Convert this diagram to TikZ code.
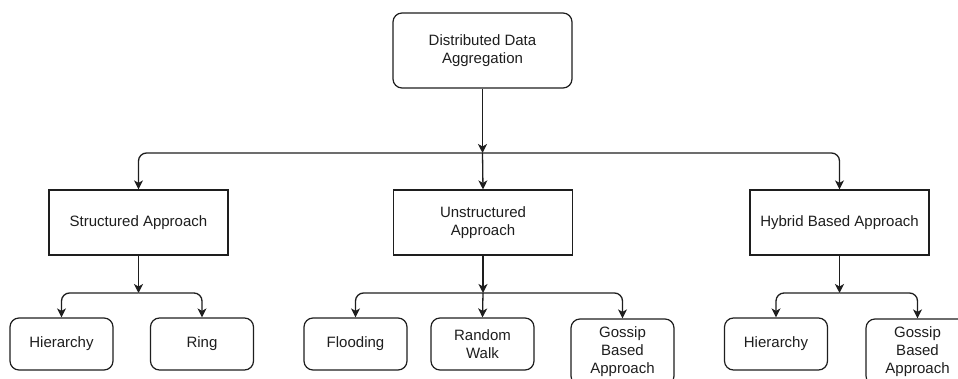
\documentclass[tikz,border=0pt]{standalone}
\usepackage{fontspec}
\setmainfont{Liberation Sans}
\usetikzlibrary{arrows.meta}
\definecolor{ink}{HTML}{1E1E1E}
\tikzset{
  box/.style={draw=ink, line width=1.2pt, fill=white, align=center, inner sep=0pt,
    font=\fontsize{15}{18}\selectfont, text=ink},
  roundbox/.style={box, rounded corners=9pt},
  arr/.style={draw=ink, line width=1.3pt, -{Stealth[length=9pt,width=9pt,inset=2.5pt]}, rounded corners=8pt},
}
\begin{document}
\begin{tikzpicture}[x=1pt, y=-1pt]
\useasboundingbox (0,0) rectangle (958,379);
\clip (0,0) rectangle (958,379);

% root
\node[roundbox, minimum width=179pt, minimum height=75pt] (root) at (482.5,50.5) {Distributed Data\\Aggregation};

% approaches
\node[box, minimum width=179pt, minimum height=65pt] (sa) at (138.5,222.5) {Structured Approach};
\node[box, minimum width=179pt, minimum height=65pt] (ua) at (483,222.5) {Unstructured\\Approach};
\node[box, minimum width=179pt, minimum height=65pt] (ha) at (839.5,222.5) {Hybrid Based Approach};

% techniques
\tikzset{leaf/.style={roundbox, minimum width=103pt, minimum height=52pt}}
\node[leaf] (sh) at (61.5,344) {Hierarchy};
\node[leaf] (sr) at (202,344) {Ring};
\node[leaf] (uf) at (355.5,344) {Flooding};
\node[leaf] (ur) at (482.5,344) {Random\\Walk};
\node[leaf, minimum height=66pt] (ug) at (622.5,352) {Gossip\\Based\\Approach};
\node[leaf] (hh) at (776,344) {Hierarchy};
\node[leaf, minimum height=66pt] (hg) at (917.5,352) {Gossip\\Based\\Approach};

% branching points
\coordinate (b0) at (482.5,153);
\coordinate (bs) at (sa.south |- 0,293);
\coordinate (bu) at (ua.south |- 0,293);
\coordinate (bh) at (ha.south |- 0,293);

% connectors
\draw[arr] (root.south) -- (b0);
\draw[arr] (b0) -| (sa.north);
\draw[arr] (b0) -- (ua.north);
\draw[arr] (b0) -| (ha.north);

\draw[arr] (sa.south) -- (bs);
\draw[arr] (bs) -| (sh.north);
\draw[arr] (bs) -| (sr.north);

\draw[arr] (ua.south) -- (bu);
\draw[arr] (bu) -| (uf.north);
\draw[arr] (bu) -- (ur.north);
\draw[arr] (bu) -| (ug.north);

\draw[arr] (ha.south) -- (bh);
\draw[arr] (bh) -| (hh.north);
\draw[arr] (bh) -| (hg.north);
\end{tikzpicture}
\end{document}
